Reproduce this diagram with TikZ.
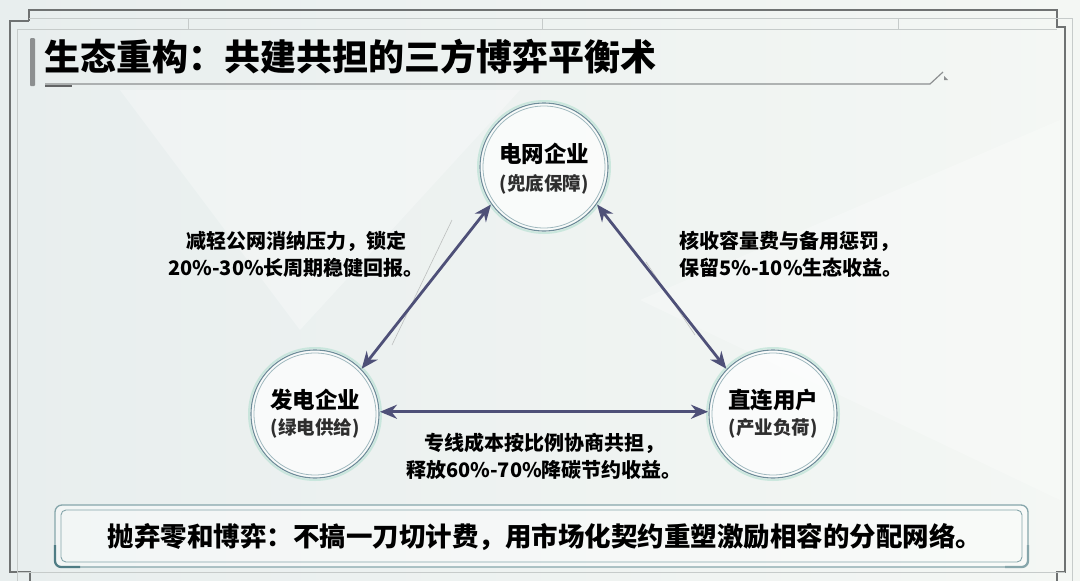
\documentclass[tikz,border=0pt]{standalone}
\usepackage{fontspec}
\setmainfont{Noto Sans CJK SC}
\usetikzlibrary{arrows.meta}
\definecolor{bgc}{HTML}{E8EEEE}
\definecolor{bgl}{HTML}{F4F7F4}
\definecolor{ringc}{HTML}{6E8C99}
\definecolor{ringi}{HTML}{9FB8BE}
\definecolor{glowc}{HTML}{A8DCCB}
\definecolor{arrowc}{HTML}{4E5078}
\definecolor{boxc}{HTML}{86A6AB}
\definecolor{boxd}{HTML}{4F7C84}
\definecolor{framed}{HTML}{6F7272}
\definecolor{framel}{HTML}{C6CBCA}
\definecolor{titleg}{HTML}{8C8F90}
\tikzset{
  party/.style={circle, minimum size=128pt, inner sep=0pt, outer sep=0pt,
    draw=ringc, line width=1.1pt, fill=white, fill opacity=0.7, draw opacity=1},
  ptitle/.style={font=\bfseries\fontsize{22.5}{26}\selectfont, text=black, inner sep=0pt},
  psub/.style={font=\bfseries\fontsize{18.5}{22}\selectfont, text=black!82, inner sep=0pt},
  link/.style={{Stealth[length=17pt,width=14pt]}-{Stealth[length=17pt,width=14pt]},
    line width=2.8pt, draw=arrowc, shorten <=1pt, shorten >=1pt},
  lbl/.style={font=\bfseries\fontsize{20}{27}\selectfont, text=black, align=center, inner sep=0pt},
  framedark/.style={draw=framed, line width=1.2pt},
  framelight/.style={draw=framel, line width=0.8pt},
}
\begin{document}
\begin{tikzpicture}[x=1pt,y=-1pt]
\useasboundingbox (0,0) rectangle (1080,581);
% background
\shade[left color=bgc, right color=bgl] (0,0) rectangle (1080,581);
\fill[white, opacity=0.3] (120,90) -- (520,90) -- (300,330) -- cycle;
\fill[white, opacity=0.25] (640,300) -- (1060,120) -- (1060,500) -- cycle;
\draw[gray, opacity=0.45, line width=0.6pt] (452,220) -- (392,345);
\draw[gray, opacity=0.45, line width=0.6pt] (646,262) -- (695,335);
% frame
\draw[framedark] (29,21) -- (29,10) -- (1057,10) -- (1057,27) -- (1065,27) -- (1065,572) -- (1057,572) -- (1057,581);
\draw[framedark] (29,21) -- (10,21) -- (10,572) -- (30,572) -- (30,581);
\draw[framelight] (29,18) -- (1072,18) -- (1072,581);
\draw[framelight] (17,29) -- (1057,29);
\draw[framelight] (17,29) -- (17,581);
\draw[framelight] (188,18) -- (188,29);
\draw[framelight] (542,18) -- (542,29);
\draw[framelight] (898,18) -- (898,29);
\draw[framelight] (17,572) -- (1065,572);
% title
\fill[titleg, rounded corners=1pt] (30,38) rectangle (35,86);
\node[anchor=west, font=\bfseries\fontsize{36}{40}\selectfont, text=black, inner sep=0pt] (title) at (44,57) {生态重构：共建共担的三方博弈平衡术};
\draw[titleg, line width=1.2pt] (45,84) -- (930,84) -- (943,72);
\fill[titleg] (944,76) -- (948,80) -- (944,80) -- cycle;
\draw[titleg!70!black, line width=2.2pt] (45,86) -- (72,86);
% parties
\node[party] (top) at (544,167) {};
\node[party] (left) at (315,414) {};
\node[party] (right) at (773,414) {};
\foreach \n in {top,left,right}{
  \draw[ringi, line width=0.8pt] (\n.center) circle[radius=61];
  \draw[glowc, opacity=0.5, line width=2pt] (\n.center) circle[radius=66];
}
\node[ptitle] (topT) at ([yshift=13pt]top.center) {电网企业};
\node[psub] (topS) at ([yshift=-17pt]top.center) {(兜底保障)};
\node[ptitle] (leftT) at ([yshift=14pt]left.center) {发电企业};
\node[psub] (leftS) at ([yshift=-14pt]left.center) {(绿电供给)};
\node[ptitle] (rightT) at ([yshift=14pt]right.center) {直连用户};
\node[psub] (rightS) at ([yshift=-14pt]right.center) {(产业负荷)};
% links
\draw[link] (top.215) -- (left.44);
\draw[link] (top.-35) -- (right.136);
\draw[link] (left.2) -- (right.178);
% labels
\node[lbl] (lblL) at (296,254) {减轻公网消纳压力，锁定\\20\%-30\%长周期稳健回报。};
\node[lbl, align=left, anchor=west] (lblR) at (679,254) {核收容量费与备用惩罚，\\保留5\%-10\%生态收益。};
\node[lbl] (lblB) at (544,456) {专线成本按比例协商共担，\\释放60\%-70\%降碳节约收益。};
% bottom box
\draw[boxc, line width=1.3pt, rounded corners=7pt, fill=white, fill opacity=0.45] (55,505) rectangle (1028,567);
\draw[boxc, line width=0.9pt, rounded corners=5pt] (61,510) rectangle (1022,562);
\draw[boxd, line width=2.2pt, rounded corners=6pt] (55,545) -- (55,567) -- (80,567);
\draw[boxc, line width=2.2pt, rounded corners=6pt] (1028,545) -- (1028,567) -- (1005,567);
\node[font=\bfseries\fontsize{26.5}{30}\selectfont, text=black, inner sep=0pt] (bottom) at (545,537) {抛弃零和博弈：不搞一刀切计费，用市场化契约重塑激励相容的分配网络。};
\end{tikzpicture}
\end{document}
